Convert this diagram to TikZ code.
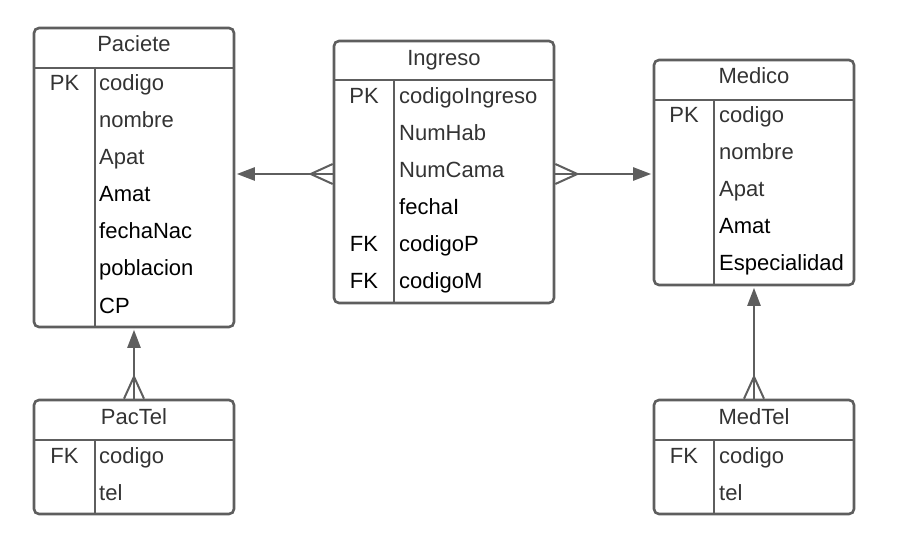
\documentclass[tikz,border=0pt]{standalone}
\usepackage{fontspec}
\setmainfont{Liberation Sans}
\usetikzlibrary{arrows.meta, calc, positioning}
\definecolor{linegray}{RGB}{94,94,94}
\definecolor{textgray}{RGB}{51,51,51}
\tikzset{
    table/.style = {draw=linegray, line width=2.6pt, rounded corners=5pt, inner sep=0pt},
    sep/.style = {draw=linegray, line width=2.6pt},
    title/.style = {anchor=base, inner sep=0pt, text=textgray, font=\fontsize{22}{26}\selectfont},
    key/.style = {anchor=base, inner sep=0pt, text=textgray, font=\fontsize{22}{26}\selectfont},
    keyb/.style = {key, text=black},
    field/.style = {anchor=base west, inner sep=0pt, text=textgray, font=\fontsize{22}{26}\selectfont},
    fieldb/.style = {field, text=black},
    rel/.style = {draw=linegray, line width=2.4pt, shorten >=1.5pt, -{Triangle[length=18pt,width=13pt]}},
    crow/.style = {draw=linegray, line width=2pt}
}

\begin{document}
\begin{tikzpicture}[x=1pt, y=-1pt]
  \useasboundingbox (0,0) rectangle (902,545);

  % tables
  \node[table, minimum width=200pt, minimum height=299pt] (paciete) at (134,177.5) {};
  \node[table, minimum width=220pt, minimum height=262pt] (ingreso) at (444,172) {};
  \node[table, minimum width=200pt, minimum height=225pt] (medico) at (754,172.5) {};
  \node[table, minimum width=200pt, minimum height=114pt] (pactel) at (134,457) {};
  \node[table, minimum width=200pt, minimum height=114pt] (medtel) at (754,457) {};

  % header lines and key columns
  \draw[sep] (34,68) -- (234,68);
  \draw[sep] (95,68) -- (paciete.south -| 95,0);
  \draw[sep] (334,80) -- (554,80);
  \draw[sep] (394,80) -- (ingreso.south -| 394,0);
  \draw[sep] (654,100) -- (854,100);
  \draw[sep] (714,100) -- (medico.south -| 714,0);
  \draw[sep] (34,440) -- (234,440);
  \draw[sep] (95,440) -- (pactel.south -| 95,0);
  \draw[sep] (654,440) -- (854,440);
  \draw[sep] (714,440) -- (medtel.south -| 714,0);

  % Paciete
  \node[title] (pactitle) at (134,52) {Paciete};
  \node[key] (pacpk) at (64.5,91) {PK};
  \node[field] (pac1) at (99,91) {codigo};
  \node[field] (pac2) at (99,128) {nombre};
  \node[field] (pac3) at (99,165) {Apat};
  \node[fieldb] (pac4) at (99,202) {Amat};
  \node[fieldb] (pac5) at (99,239) {fechaNac};
  \node[fieldb] (pac6) at (99,276) {poblacion};
  \node[fieldb] (pac7) at (99,313) {CP};

  % Ingreso
  \node[title] (ingtitle) at (444,66) {Ingreso};
  \node[key] (ingpk) at (364,104) {PK};
  \node[keyb] (ingfk1) at (364,252) {FK};
  \node[keyb] (ingfk2) at (364,289) {FK};
  \node[field] (ing1) at (399,104) {codigoIngreso};
  \node[field] (ing2) at (399,141) {NumHab};
  \node[field] (ing3) at (399,178) {NumCama};
  \node[fieldb] (ing4) at (399,215) {fechaI};
  \node[fieldb] (ing5) at (399,252) {codigoP};
  \node[fieldb] (ing6) at (399,289) {codigoM};

  % Medico
  \node[title] (medtitle) at (754,84) {Medico};
  \node[key] (medpk) at (684,123) {PK};
  \node[field] (med1) at (719,123) {codigo};
  \node[field] (med2) at (719,160) {nombre};
  \node[field] (med3) at (719,197) {Apat};
  \node[fieldb] (med4) at (719,234) {Amat};
  \node[fieldb] (med5) at (719,271) {Especialidad};

  % PacTel
  \node[title] (ptltitle) at (134,424) {PacTel};
  \node[key] (ptlfk) at (64.5,463) {FK};
  \node[field] (ptl1) at (99,463) {codigo};
  \node[field] (ptl2) at (99,500) {tel};

  % MedTel
  \node[title] (mtltitle) at (754,424) {MedTel};
  \node[key] (mtlfk) at (684,463) {FK};
  \node[field] (mtl1) at (719,463) {codigo};
  \node[field] (mtl2) at (719,500) {tel};

  % relations
  \coordinate (lvl) at (0,174);
  \draw[rel] (ingreso.west |- lvl) -- (paciete.east |- lvl);
  \draw[rel] (ingreso.east |- lvl) -- (medico.west |- lvl);
  \draw[rel] (pactel.north) -- (paciete.south);
  \draw[rel] (medtel.north) -- (medico.south);

  % crow's feet
  \draw[crow] ($(ingreso.west |- lvl)+(0,-10)$) -- ($(ingreso.west |- lvl)+(-22,0)$) -- ($(ingreso.west |- lvl)+(0,10)$);
  \draw[crow] ($(ingreso.east |- lvl)+(0,-10)$) -- ($(ingreso.east |- lvl)+(22,0)$) -- ($(ingreso.east |- lvl)+(0,10)$);
  \draw[crow] ($(pactel.north)+(-10,0)$) -- ($(pactel.north)+(0,-22)$) -- ($(pactel.north)+(10,0)$);
  \draw[crow] ($(medtel.north)+(-10,0)$) -- ($(medtel.north)+(0,-22)$) -- ($(medtel.north)+(10,0)$);
\end{tikzpicture}
\end{document}
